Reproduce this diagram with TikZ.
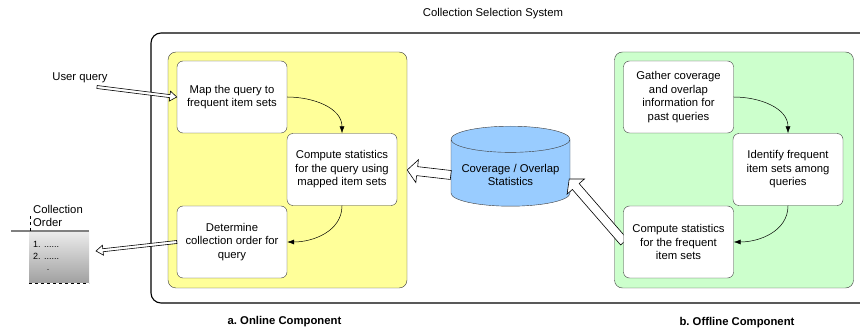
\documentclass[tikz,border=0pt]{standalone}
\usepackage{fontspec}
\setmainfont{Liberation Sans}
\usetikzlibrary{arrows.meta,positioning,calc,shapes.geometric}
\definecolor{onlineYellow} {RGB}{255,255,153}
\definecolor{offlineGreen} {RGB}{204,255,204}
\definecolor{statsBlue}    {RGB}{153,204,255}
\definecolor{listTop}      {RGB}{235,235,235}
\definecolor{listBottom}   {RGB}{160,160,160}
\definecolor{edgeGray}     {RGB}{ 60, 60, 60}
\newcommand{\diagfont}{\fontsize{11.3}{13.5}\selectfont}
% tail, tip, half shaft, half head, head length
\newcommand{\hollowarrow}[5]{%
  \coordinate (ha-n) at ($(#2)!#5!(#1)$);
  \draw[hollow] ($(#1)!#3!90:(#2)$) -- ($(ha-n)!#3!90:(#2)$) -- ($(ha-n)!#4!90:(#2)$)
    -- (#2) -- ($(ha-n)!#4!-90:(#2)$) -- ($(ha-n)!#3!-90:(#2)$)
    -- ($(#1)!#3!-90:(#2)$) -- cycle;
}

\begin{document}
\begin{tikzpicture}[x=1pt,y=1pt,
    every node/.style={font=\diagfont},
    panel/.style={draw=edgeGray, rounded corners=8pt, minimum width=239pt, minimum height=236pt},
    stepbox/.style={draw=edgeGray, fill=white, rounded corners=6pt, minimum width=110pt,
      minimum height=72pt, align=center, inner sep=2pt},
    flow/.style={-{Latex[length=7pt,width=5pt]}, black, line width=0.5pt},
    hollow/.style={draw=black, fill=white, line width=0.6pt, line join=miter},
    caption/.style={font=\diagfont\bfseries},
    listitem/.style={inner sep=0pt, font=\fontsize{9}{10}\selectfont}]
  \clip (0,0) rectangle (860,335);

  \node (title) at (493,321) {Collection Selection System};
  \draw[line width=1.1pt, rounded corners=10pt] (151,32) rectangle (872,302);

  % the two components
  \node[panel, fill=onlineYellow] (online) at (287.5,165) {};
  \node[panel, fill=offlineGreen] (offline) at (734,165) {};
  \node[caption] (onlinecap) at (284.5,13) {a.\ Online Component};
  \node[caption] (offlinecap) at (737,12) {b.\ Offline Component};

  % statistics store
  \node[cylinder, shape border rotate=90, aspect=0.25, draw=edgeGray, fill=statsBlue,
    minimum width=119pt, minimum height=80pt, align=center] (stats) at (510.5,160)
    {Coverage / Overlap\\Statistics};

  \coordinate (cfreqtail) at (624,93);
  \coordinate (statsin) at ($(stats.east)+(-1,-4)$);
  \hollowarrow{stats.west}{online.east}{4.5pt}{11.5pt}{10pt}
  \hollowarrow{cfreqtail}{statsin}{4.5pt}{11.5pt}{10pt}

  % online steps
  \node[stepbox] (map) at (232,238) {Map the query to\\frequent item sets};
  \node[stepbox] (comp) at (342,165.5) {Compute statistics\\for the query using\\mapped item sets};
  \node[stepbox] (det) at (232,93) {Determine\\collection order for\\query};

  % offline steps
  \node[stepbox] (gather) at (678.5,238) {Gather coverage\\and overlap\\information for\\past queries};
  \node[stepbox] (ident) at (788,165.5) {Identify frequent\\item sets among\\queries};
  \node[stepbox] (cfreq) at (678.5,93) {Compute statistics\\for the frequent\\item sets};

  \draw[flow] (map.east) to[out=0,in=90] (comp.north);
  \draw[flow] (comp.south) to[out=-90,in=0] (det.east);
  \draw[flow] (gather.east) to[out=0,in=90] (ident.north);
  \draw[flow] (ident.south) to[out=-90,in=0] (cfreq.east);

  % query in, order out
  \node (uq) at (80,257) {User query};
  \coordinate (uqtail) at (97,248);
  \coordinate (cotip) at (96,84);
  \hollowarrow{uqtail}{map.west}{1.5pt}{5pt}{7pt}
  \hollowarrow{det.west}{cotip}{1.5pt}{5pt}{7pt}

  % collection order list
  \node[align=left, anchor=west, inner sep=0pt] (colord) at (33,119) {Collection\\Order};
  \shade[top color=listTop, bottom color=listBottom] (29,52) rectangle (89,103);
  \draw[gray, line width=2pt] (11,104) -- (89,104);
  \draw[dashed, line width=0.8pt] (30,104) -- (30,121);
  \draw[dashed, line width=0.8pt] (29,52) -- (89,52);
  \node[listitem, anchor=west] (item1) at (33,91) {1. ......};
  \node[listitem, anchor=west] (item2) at (33,79) {2. ......};
  \node[listitem] (item3) at (48,65) {.};
\end{tikzpicture}
\end{document}
